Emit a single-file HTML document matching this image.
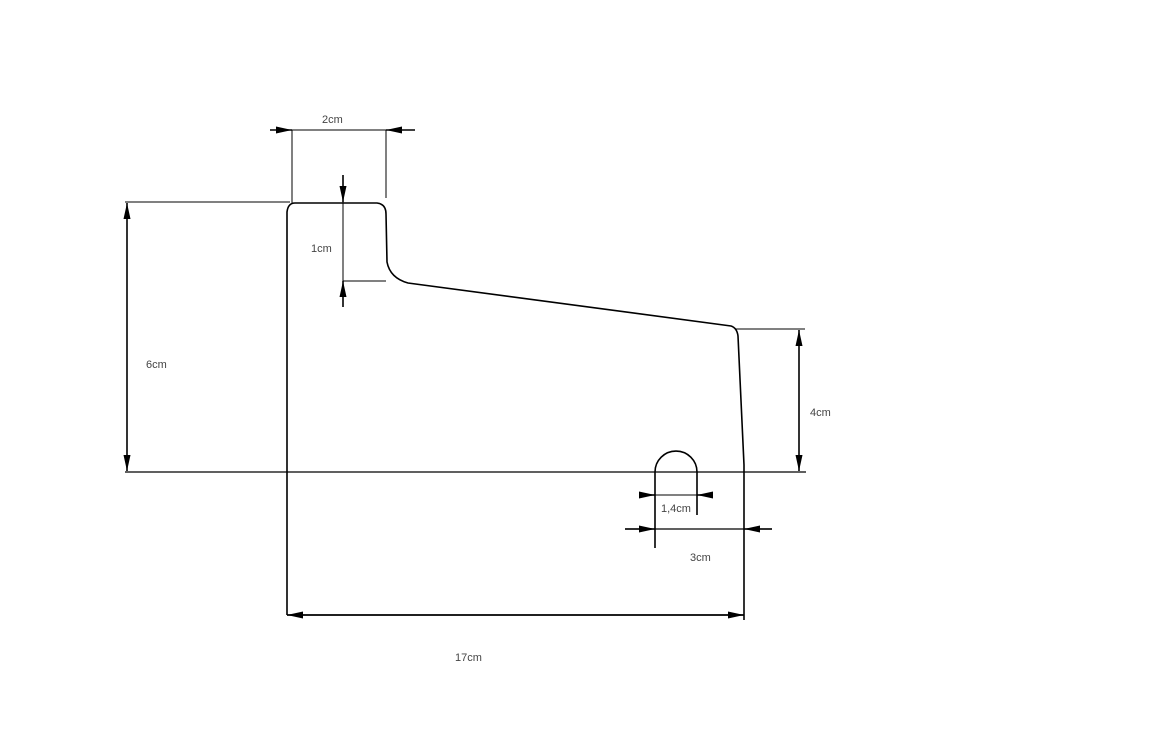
<!DOCTYPE html>
<html><head><style>html,body{margin:0;padding:0;background:#fff}svg{display:block}</style></head><body>
<svg width="1152" height="736" viewBox="0 0 1152 736" xmlns="http://www.w3.org/2000/svg" font-family="Liberation Sans, sans-serif" font-size="11" fill="#444">
<defs>
<marker id="a" viewBox="0 0 16 8" refX="16" refY="4" markerWidth="16" markerHeight="8" markerUnits="userSpaceOnUse" orient="auto"><path d="M0,0.5 L16,4 L0,7.5 z" fill="#000"/></marker>
</defs>
<g stroke="#000" stroke-width="1" fill="none">
<path d="M287,615 L287,212 Q288,203 295,203 L377,203 Q386,204 386,214 L387,262 Q390,278 408,283 L731,326 Q737,328 738,336 L744,465" stroke-width="1.6"/>
<line x1="125" y1="202" x2="290" y2="202"/>
<line x1="125" y1="472" x2="806" y2="472" stroke-width="1.3"/>
<line x1="744" y1="465" x2="744" y2="620" stroke-width="1.6"/>
<!-- 6cm -->
<line x1="127" y1="340" x2="127" y2="203" stroke-width="1.6" marker-end="url(#a)"/>
<line x1="127" y1="340" x2="127" y2="471" stroke-width="1.6" marker-end="url(#a)"/>
<!-- 2cm -->
<line x1="292" y1="130" x2="292" y2="203"/>
<line x1="386" y1="130" x2="386" y2="198"/>
<line x1="270" y1="130" x2="415" y2="130"/>
<line x1="270" y1="130" x2="292" y2="130" stroke-width="1.6" marker-end="url(#a)"/>
<line x1="415" y1="130" x2="386" y2="130" stroke-width="1.6" marker-end="url(#a)"/>
<!-- 1cm -->
<line x1="343" y1="175" x2="343" y2="307"/>
<line x1="343" y1="175" x2="343" y2="202" stroke-width="1.6" marker-end="url(#a)"/>
<line x1="343" y1="307" x2="343" y2="281" stroke-width="1.6" marker-end="url(#a)"/>
<line x1="343" y1="281" x2="386" y2="281"/>
<!-- 4cm -->
<line x1="735" y1="329" x2="805" y2="329"/>
<line x1="799" y1="400" x2="799" y2="330" stroke-width="1.6" marker-end="url(#a)"/>
<line x1="799" y1="400" x2="799" y2="471" stroke-width="1.6" marker-end="url(#a)"/>
<!-- slot -->
<path d="M655,548 L655,472 A21,21 0 0 1 697,472 L697,515" stroke-width="1.6"/>
<line x1="640" y1="495" x2="711" y2="495"/>
<line x1="640" y1="495" x2="655" y2="495" stroke-width="1.6" marker-end="url(#a)"/>
<line x1="711" y1="495" x2="697" y2="495" stroke-width="1.6" marker-end="url(#a)"/>
<!-- 3cm -->
<line x1="625" y1="529" x2="772" y2="529" stroke-width="1.3"/>
<line x1="625" y1="529" x2="655" y2="529" stroke-width="1.6" marker-end="url(#a)"/>
<line x1="772" y1="529" x2="744" y2="529" stroke-width="1.6" marker-end="url(#a)"/>
<!-- 17cm -->
<line x1="500" y1="615" x2="287" y2="615" stroke-width="1.8" marker-end="url(#a)"/>
<line x1="500" y1="615" x2="744" y2="615" stroke-width="1.8" marker-end="url(#a)"/>
</g>
<text x="322" y="123">2cm</text>
<text x="311" y="252">1cm</text>
<text x="146" y="368">6cm</text>
<text x="810" y="416">4cm</text>
<text x="661" y="512">1,4cm</text>
<text x="690" y="561">3cm</text>
<text x="455" y="661">17cm</text>
</svg>
</body></html>
